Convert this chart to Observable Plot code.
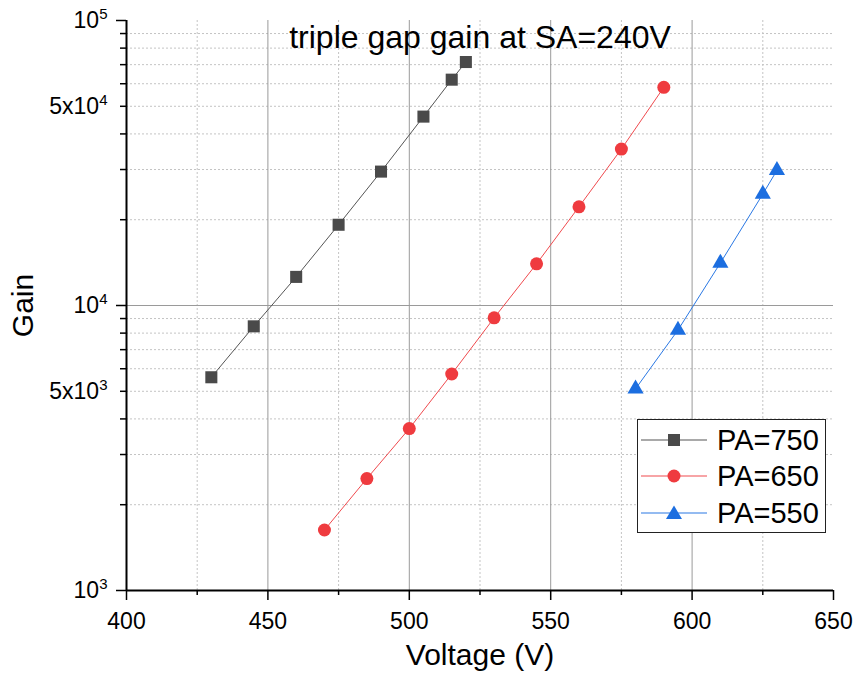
<!DOCTYPE html>
<html>
<head>
<meta charset="utf-8">
<script src="https://cdn.jsdelivr.net/npm/d3@7"></script>
<script src="https://cdn.jsdelivr.net/npm/@observablehq/plot@0.6"></script>
<style>
  body { margin: 0; background: #fff; }
  #wrap { position: relative; width: 856px; height: 680px; font-family: "Liberation Sans", Arial, sans-serif; }
  #legend { position: absolute; left: 637px; top: 419px; width: 187px; height: 112px; border: 1.5px solid #222; background: #fff; box-sizing: content-box; }
  #legend .row { position: absolute; left: 0; height: 36px; display: flex; align-items: center; }
  #legend .row span { font-size: 29px; color: #000; margin-left: 7px; line-height: 36px; }
</style>
</head>
<body>
<div id="wrap"><div id="chart"></div><div id="legend"></div></div>
<script>
const seriesNames = ["PA=750", "PA=650", "PA=550"];
const seriesColors = ["#4a4a4a", "#ef3b3f", "#1c6ee0"];
const lineColors = ["#555555", "#f04a4e", "#2a78e4"];
const seriesSymbols = ["square", "circle", "triangle"];

const voltage750 = [430, 445, 460, 475, 490, 505, 515, 520];
const gain750 = [5600, 8450, 12600, 19200, 29500, 46000, 62000, 71500];
const voltage650 = [470, 485, 500, 515, 530, 545, 560, 575, 590];
const gain650 = [1630, 2470, 3700, 5750, 9050, 14000, 22200, 35400, 58300];
const voltage550 = [580, 595, 610, 625, 630];
const gain550 = [5100, 8200, 14100, 24600, 29800];

const xMajorTicks = [400, 450, 500, 550, 600, 650];
const xMinorTicks = [425, 475, 525, 575, 625];
const xGridMajor = [450, 500, 550, 600];
const yMajorTicks = [1000, 10000, 100000];
const yMinorTicks = [2000, 3000, 4000, 5000, 6000, 7000, 8000, 9000, 20000, 30000, 40000, 50000, 60000, 70000, 80000, 90000];
const yLabelTicks = [1000, 5000, 10000, 50000, 100000];
const yGridMajor = [10000];

const titleText = "triple gap gain at SA=240V";
const xTitle = "Voltage (V)";
const yTitle = "Gain";

const series = [
  {v: voltage750, g: gain750},
  {v: voltage650, g: gain650},
  {v: voltage550, g: gain550}
].map((s, i) => s.v.map((v, j) => ({series: seriesNames[i], voltage: v, gain: s.g[j]})));

const fmt = d => {
  const e = Math.floor(Math.log10(d) + 1e-9);
  const m = Math.round(d / Math.pow(10, e));
  return (m === 1 ? "" : m + "x") + "10^" + e;
};

const sizes = [6.8, 6.5, 6];
const marks = [
  Plot.gridX(xMinorTicks, {stroke: "#c4c4c4", strokeOpacity: 1, strokeDasharray: "2,2"}),
  Plot.gridY(yMinorTicks, {stroke: "#c4c4c4", strokeOpacity: 1, strokeDasharray: "2,2"}),
  Plot.gridX(xGridMajor, {stroke: "#9a9a9a", strokeOpacity: 1}),
  Plot.gridY(yGridMajor, {stroke: "#9a9a9a", strokeOpacity: 1}),
  Plot.axisX(xMajorTicks, {tickSize: 10, tickPadding: 12, strokeWidth: 1.5, label: null, fontSize: 23, tickFormat: d => String(d)}),
  Plot.axisX(xMinorTicks, {tickSize: 5, strokeWidth: 1.5, label: null, tickFormat: () => ""}),
  Plot.axisY(yMajorTicks, {tickSize: 10, strokeWidth: 1.5, label: null, tickFormat: () => ""}),
  Plot.axisY(yMinorTicks, {tickSize: 6, strokeWidth: 1.5, label: null, tickFormat: () => ""}),
  Plot.axisY(yLabelTicks, {tickSize: 0, tickPadding: 19, label: null, fontSize: 23, tickFormat: fmt}),
  Plot.ruleX([400], {stroke: "#000", strokeWidth: 2}),
  Plot.ruleY([1000], {stroke: "#000", strokeWidth: 2})
];
series.forEach((data, i) => {
  marks.push(Plot.line(data, {x: "voltage", y: "gain", stroke: lineColors[i], strokeWidth: 1}));
  marks.push(Plot.dot(data, {x: "voltage", y: "gain", symbol: seriesSymbols[i], fill: seriesColors[i], stroke: "none", r: sizes[i]}));
});
marks.push(Plot.text([titleText], {frameAnchor: "top", dy: 5, fontSize: 32, fill: "#000", text: d => d}));
marks.push(Plot.text([xTitle], {frameAnchor: "bottom", dy: 74, fontSize: 30, fill: "#000", text: d => d}));
marks.push(Plot.text([yTitle], {frameAnchor: "left", textAnchor: "middle", dx: -103, rotate: -90, fontSize: 30, fill: "#000", text: d => d}));

const chart = Plot.plot({
  width: 856,
  height: 680,
  marginLeft: 126,
  marginRight: 23,
  marginTop: 20,
  marginBottom: 90,
  style: {fontFamily: "'Liberation Sans', Arial, sans-serif", color: "#000", background: "#fff", overflow: "visible"},
  x: {domain: [400, 650]},
  y: {type: "log", domain: [1000, 100000]},
  marks
});
document.getElementById("chart").appendChild(chart);

// superscript exponents in tick labels
const NS = "http://www.w3.org/2000/svg";
chart.querySelectorAll("text").forEach(t => {
  const s = t.textContent;
  const m = s.match(/^(.*)\^(\d+)$/);
  if (!m) return;
  t.textContent = "";
  const a = document.createElementNS(NS, "tspan");
  a.textContent = m[1];
  const b = document.createElementNS(NS, "tspan");
  b.textContent = m[2];
  b.setAttribute("font-size", "15");
  b.setAttribute("dy", "-9");
  t.appendChild(a);
  t.appendChild(b);
});

// legend
const legend = document.getElementById("legend");
const rowTops = [2, 38, 75];
seriesNames.forEach((name, i) => {
  const row = document.createElement("div");
  row.className = "row";
  row.style.top = rowTops[i] + "px";
  const sym = seriesSymbols[i];
  let shape;
  if (sym === "square") shape = `<rect x="30" y="12" width="12" height="12" fill="${seriesColors[i]}"/>`;
  else if (sym === "circle") shape = `<circle cx="36" cy="18" r="6.5" fill="${seriesColors[i]}"/>`;
  else shape = `<path d="M36,10.5 L44,24 L28,24 Z" fill="${seriesColors[i]}"/>`;
  row.innerHTML = `<svg width="72" height="36" style="display:block"><line x1="3" x2="69" y1="18" y2="18" stroke="${lineColors[i]}" stroke-width="1.2"/>${shape}</svg><span>${name}</span>`;
  legend.appendChild(row);
});
</script>
</body>
</html>
